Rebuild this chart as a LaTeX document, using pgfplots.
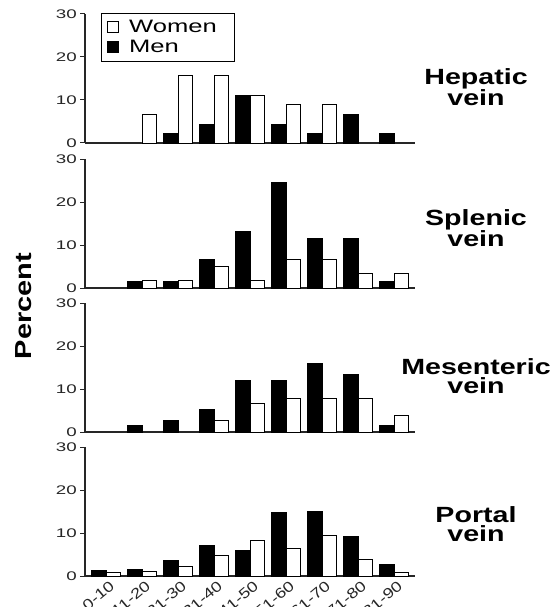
\documentclass[border=0pt]{standalone}
\usepackage{pgfplots}
\pgfplotsset{compat=1.18}
\usepackage{fontspec}
\setmainfont{Liberation Sans}
\newfontfamily\tickfont[FakeStretch=1.5]{Liberation Sans}
\newfontfamily\xlabfont[FakeStretch=1.25]{Liberation Sans}
\newfontfamily\legfont[FakeStretch=1.42]{Liberation Sans}
\newfontfamily\titfont[FakeStretch=1.3]{Liberation Sans}
\begin{document}
\begin{tikzpicture}
\useasboundingbox (0,0) rectangle (557pt,-607pt);
\pgfplotsset{
 vein/.style={
  scale only axis, width=330pt, height=129pt,
  xmin=-0.583, xmax=8.583, ymin=0, ymax=30,
  axis x line*=bottom, axis y line*=left,
  axis line style={-, line width=1.1pt, black!85},
  /pgf/number format/assume math mode=true,
  ytick={0,10,20,30},
  yticklabels={0,10,20,30},
  yticklabel style={font=\tickfont\fontsize{12.5}{12.5}\selectfont, black!85, inner xsep=3pt},
  tick align=outside, major tick length=5pt,
  ytick style={line width=1pt, black!85},
  xtick={0,...,8}, xtick style={draw=none}, xticklabels={},
  clip=false,
 },
 wbar/.style={ybar, bar width=0.4, bar shift=0.2, fill=white, draw=black, line width=0.9pt,
   legend image code/.code={\draw[fill=white, draw=black, line width=0.8pt] (0pt,-5pt) rectangle (11pt,6pt); \path (-1pt,0pt) (19pt,0pt);}},
 mbar/.style={ybar, bar width=0.4, bar shift=-0.2, fill=black, draw=black, line width=0.9pt,
   legend image code/.code={\draw[fill=black, draw=black, line width=0.8pt] (0pt,-5pt) rectangle (11pt,6pt); \path (-1pt,0pt) (19pt,0pt);}},
}
% Hepatic
\begin{axis}[vein, at={(85pt,-143pt)}, anchor=south west,
  legend style={at={(0.048,1.008)}, anchor=north west, draw=black, line width=0.9pt,
    font=\legfont\fontsize{18}{20}\selectfont, inner xsep=5pt, inner ysep=5pt, row sep=2pt,
    cells={anchor=west}},
  legend cell align=left]
\addplot[wbar] coordinates {(1,6.7) (2,15.6) (3,15.6) (4,11.1) (5,8.9) (6,8.9)};
\addlegendentry{Women\rule{11pt}{0pt}}
\addplot[mbar] coordinates {(2,2.2) (3,4.4) (4,11.1) (5,4.4) (6,2.2) (7,6.7) (8,2.2)};
\addlegendentry{Men}
\end{axis}
% Splenic
\begin{axis}[vein, at={(85pt,-288pt)}, anchor=south west]
\addplot[wbar] coordinates {(1,1.7) (2,1.7) (3,5.0) (4,1.7) (5,6.7) (6,6.7) (7,3.3) (8,3.3)};
\addplot[mbar] coordinates {(1,1.6) (2,1.6) (3,6.6) (4,13.1) (5,24.6) (6,11.5) (7,11.5) (8,1.6)};
\end{axis}
% Mesenteric
\begin{axis}[vein, at={(85pt,-432pt)}, anchor=south west]
\addplot[wbar] coordinates {(3,2.7) (4,6.7) (5,7.9) (6,7.9) (7,7.8) (8,3.9)};
\addplot[mbar] coordinates {(1,1.5) (2,2.7) (3,5.3) (4,11.9) (5,11.9) (6,16.0) (7,13.3) (8,1.6)};
\end{axis}
% Portal
\begin{axis}[vein, at={(85pt,-576pt)}, anchor=south west,
  xticklabels={0-10,11-20,21-30,31-40,41-50,51-60,61-70,71-80,81-90},
  xticklabel style={rotate=40, anchor=north east, font=\xlabfont\fontsize{14.5}{14.5}\selectfont, black!85, inner sep=0pt, xshift=3pt, yshift=-1pt}]
\addplot[wbar] coordinates {(0,0.9) (1,1.1) (2,2.2) (3,4.7) (4,8.3) (5,6.3) (6,9.5) (7,3.8) (8,0.8)};
\addplot[mbar] coordinates {(0,1.3) (1,1.5) (2,3.6) (3,7.0) (4,6.0) (5,14.7) (6,15.0) (7,9.3) (8,2.7)};
\end{axis}
% Titles
\begin{scope}[every node/.style={align=center, font=\titfont\fontsize{22}{19}\selectfont\bfseries}]
\node at (476pt,-87pt) {Hepatic\\vein};
\node at (476pt,-228pt) {Splenic\\vein};
\node at (476pt,-376pt) {Mesenteric\\vein};
\node at (476pt,-524pt) {Portal\\vein};
\end{scope}
\node[rotate=90, font=\fontsize{29}{29}\selectfont\bfseries] at (24pt,-306pt) {\scalebox{1}[0.8]{Percent}};
\end{tikzpicture}
\end{document}
